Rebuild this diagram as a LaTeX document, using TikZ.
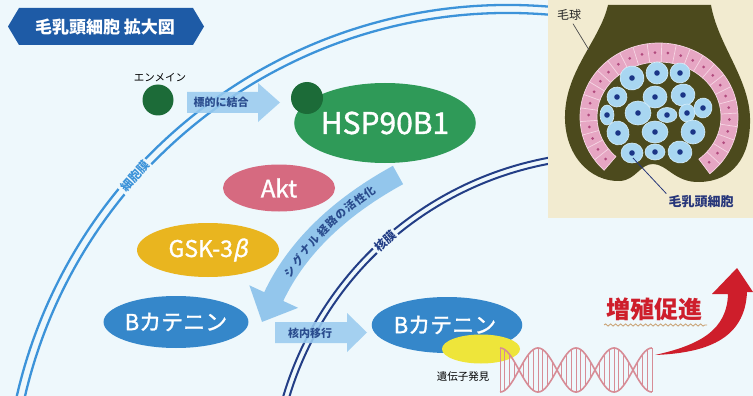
\documentclass[tikz,border=0pt]{standalone}
\usepackage{fontspec}
\setmainfont{Noto Sans CJK JP}
\newfontfamily\slfont{Noto Sans CJK JP}[FakeSlant=0.22,FakeBold=1.2]
\newfontfamily\medfont{Noto Sans CJK JP}[FakeBold=1.2]
\usetikzlibrary{shapes.geometric,arrows.meta,decorations.pathmorphing,calc}

\definecolor{bgc}{HTML}{EEF8FC}
\definecolor{banner}{HTML}{1E5BA6}
\definecolor{dgreen}{HTML}{1C6B38}
\definecolor{hspg}{HTML}{2F9A58}
\definecolor{aktp}{HTML}{D66A80}
\definecolor{gsky}{HTML}{E9B51F}
\definecolor{bcat}{HTML}{3587CA}
\definecolor{ylw}{HTML}{EEE53A}
\definecolor{arrowblue}{HTML}{9ACBEF}
\definecolor{arrowtxt}{HTML}{2A4C8E}
\definecolor{sigblue}{HTML}{93C6EC}
\definecolor{outerm}{HTML}{3C93D9}
\definecolor{nucm}{HTML}{233E86}
\definecolor{redc}{HTML}{CE1E2B}
\definecolor{dnac}{HTML}{D78C96}
\definecolor{beige}{HTML}{F2EBD0}
\definecolor{bulbc}{HTML}{4C4A1D}
\definecolor{ringp}{HTML}{E6A6C3}
\definecolor{ringline}{HTML}{F6D6E4}
\definecolor{ringdot}{HTML}{B14A7E}
\definecolor{cellb}{HTML}{A8D6F1}
\definecolor{cellrim}{HTML}{D6EEFA}
\definecolor{nucl}{HTML}{1B3586}
\definecolor{labnavy}{HTML}{27367A}
\definecolor{wavec}{HTML}{C9A070}

\newcommand{\ellfont}[1]{\fontsize{#1}{#1}\selectfont\medfont}

\begin{document}
\begin{tikzpicture}[x=1pt,y=-1pt,
  ell/.style={ellipse, inner sep=0pt, text=white},
  smalllbl/.style={font=\fontsize{10.5}{11}\selectfont, text=black, inner sep=0pt},
  arrowlbl/.style={font=\fontsize{11}{12}\selectfont\bfseries, text=arrowtxt, inner sep=0pt},
  blockarrow/.style={fill=arrowblue, fill opacity=0.88},
  siglbl/.style={font=\fontsize{11}{11}\selectfont\bfseries, text=arrowtxt, inner sep=0pt, sloped},
  memlbl/.style={fill=bgc, inner sep=2pt, font=\fontsize{12}{12}\selectfont\bfseries},
  outerline/.style={draw=outerm, line width=2.3pt},
  nucline/.style={draw=nucm, line width=2pt},
  dnastrand/.style={draw=dnac, line width=1.6pt},
  dnarung/.style={draw=dnac, line width=0.8pt},
  papcell/.style={fill=cellb, draw=cellrim, line width=0.6pt},
  ringcell/.style={draw=ringline, line width=0.7pt}]

\useasboundingbox (0,0) rectangle (753,396);
\clip (0,0) rectangle (753,396);
\fill[bgc] (0,0) rectangle (753,396);

% cell membrane: two concentric arcs
\coordinate (cmc) at (508,509);
\draw[outerline] (cmc) ++(168:504pt) arc[start angle=168, end angle=83, radius=504pt];
\draw[outerline] (cmc) ++(168:496pt) arc[start angle=168, end angle=83, radius=496pt];
\node[memlbl, text=outerm, rotate=48.3] (cmlbl) at ($(cmc)+(138.3:500pt)$) {細胞膜};

% nuclear membrane
\coordinate (nmc) at (611,494);
\draw[nucline] (nmc) ++(166:342pt) arc[start angle=166, end angle=96, radius=342pt];
\draw[nucline] (nmc) ++(166:336pt) arc[start angle=166, end angle=96, radius=336pt];
\node[memlbl, text=nucm, rotate=41.8] (nmlbl) at ($(nmc)+(131.75:339pt)$) {核膜};

% block arrows
\fill[blockarrow] (187,92) -- (258,92) -- (258,83) -- (280,102.5) -- (258,122) -- (258,113) -- (187,113) -- cycle;
\node[arrowlbl] (bind) at (221,102.5) {標的に結合};
\fill[blockarrow] (275,322) -- (347,322) -- (347,313) -- (367,332.5) -- (347,352) -- (347,343) -- (275,343) -- cycle;
\node[arrowlbl] (move) at (310,333) {核内移行};

% molecules
\node[smalllbl] (enmlbl) at (160,78) {エンメイン};
\node[circle, fill=dgreen, minimum size=31pt, inner sep=0pt] (enm) at (158,100) {};
\node[ell, fill=hspg, minimum width=171pt, minimum height=80pt, font=\ellfont{30}] (hsp) at (385,123) {HSP90B1};
\node[circle, fill=dgreen, minimum size=32pt, inner sep=0pt] (enmb) at (307,98) {};
\node[ell, fill=aktp, minimum width=112pt, minimum height=47pt, font=\ellfont{24}] (akt) at (279,188) {Akt};
\node[ell, fill=gsky, minimum width=142pt, minimum height=54pt, font=\ellfont{23}] (gsk) at (208,250) {GSK-3{\slfont β}};
\node[ell, fill=bcat, minimum width=144pt, minimum height=52pt, font=\ellfont{22}] (bcatl) at (176,322) {Bカテニン};
\node[ell, fill=bcat, minimum width=140pt, minimum height=56pt, font=\ellfont{22}] (bcatr) at (447,325) {Bカテニン\hspace*{4pt}};
\node[ellipse, fill=ylw, minimum width=78pt, minimum height=29pt, inner sep=0pt] (gene) at (481,349) {};
\node[smalllbl] (genelbl) at (463,377) {遺伝子発見};

% signalling arrow
\coordinate (sigs) at (398,175);
\coordinate (sige) at (262,322);
\draw[draw=sigblue, line width=21pt, -{Triangle[width=52pt,length=28pt]}]
  (sigs) .. controls (345,204) and (298,244) .. (sige);
\path (sige) .. controls (298,244) and (345,204) .. (sigs)
  node[siglbl,pos=0.24]{シ} node[siglbl,pos=0.305]{グ} node[siglbl,pos=0.37]{ナ}
  node[siglbl,pos=0.43]{ル} node[siglbl,pos=0.495]{経} node[siglbl,pos=0.56]{路}
  node[siglbl,pos=0.625]{の} node[siglbl,pos=0.69]{活} node[siglbl,pos=0.755]{性}
  node[siglbl,pos=0.82]{化};

% DNA double helix (half turn = 38pt, phase in degrees = 4.7368 per pt)
\foreach \xx in {500,504.75,...,652}
  \draw[dnarung] (\xx,{370-22*cos((\xx-500)*4.7368)}) -- (\xx,{370+22*cos((\xx-500)*4.7368)});
\draw[dnastrand] plot[domain=500:652, samples=160, smooth] (\x,{370-22*cos((\x-500)*4.7368)});
\draw[dnastrand] plot[domain=500:652, samples=160, smooth] (\x,{370+22*cos((\x-500)*4.7368)});
\coordinate (dnaend) at (655,355);

% proliferation arrow
\fill[redc] (dnaend) .. controls (705,353) and (745,340) .. (747,292) -- (753,292) -- (737,268)
  -- (712,294) -- (728,294) .. controls (727,330) and (700,345) .. (dnaend) -- cycle;
\node[font=\fontsize{24}{26}\selectfont\bfseries, text=redc, inner sep=0pt] (prolif) at (654,309) {増殖促進};
\draw[draw=wavec, line width=0.8pt, decorate, decoration={snake, amplitude=1.1pt, segment length=5pt}]
  (604,325) -- (707,325);

% hair bulb inset
\fill[beige] (548,0) rectangle (753,218);
\begin{scope}
\clip (548,0) rectangle (753,218);
\fill[bulbc] (608,5) -- (711,5) .. controls (718,45) and (749,78) .. (750,118)
  .. controls (751,158) and (732,181) .. (700,182) .. controls (675,183) and (667,164) .. (653,164)
  .. controls (640,164) and (636,180) .. (620,181) .. controls (590,182) and (564,155) .. (565,115)
  .. controls (566,70) and (600,40) .. (608,5) -- cycle;
\end{scope}
\coordinate (rc) at (659,117);
\fill[ringp, draw=ringline, line width=0.7pt] ($(rc)+(-50:79pt and 74pt)$) arc[start angle=-50, end angle=226, x radius=79pt, y radius=74pt]
  -- ($(rc)+(226:62pt and 55pt)$) arc[start angle=226, end angle=-50, x radius=62pt, y radius=55pt] -- cycle;
\foreach \i in {1,...,25} {
  \pgfmathsetmacro\aa{-50+\i*276/26}
  \draw[ringcell] ($(rc)+(\aa:62pt and 55pt)$) -- ($(rc)+(\aa:79pt and 74pt)$);
}
\foreach \i in {0,...,25} {
  \pgfmathsetmacro\am{-50+(\i+0.5)*276/26}
  \fill[ringdot] ($(rc)+(\am:70.5pt and 64.5pt)$) circle[radius=1.5pt];
}
\foreach \cx/\cy/\rx/\ry/\rot in {632/78/12/12/10, 657/73/11/11/0, 680/73/10/10/-15, 617/97/10/10/20,
  655/97/12/11/0, 683/95/12/11/10, 607/115/7/10/0, 638/113/13/12/0, 667/115/10/7.5/0,
  687/113/8/9/0, 703/108/9/10/-10, 618/133/11/12/15, 655/132/13/11/0, 693/132/12/12/0,
  632/153/11/10/0, 655/152/10/8/0, 680/152/12/11/-10} {
  \fill[papcell, rotate around={\rot:(\cx,\cy)}] (\cx,\cy) ellipse[x radius=\rx pt, y radius=\ry pt];
  \fill[nucl] (\cx,\cy) circle[radius=2.8pt];
}
\node[font=\fontsize{12}{12}\selectfont, text=black!85, inner sep=0pt] (bulblbl) at (569,15) {毛球};
\coordinate (bulbpt) at (589,50);
\draw[black!70, line width=0.7pt] (bulblbl.south) ++(4,3) -- (bulbpt);
\node[font=\fontsize{13}{13}\selectfont\bfseries, text=labnavy, inner sep=0pt] (dplbl) at (701,202) {毛乳頭細胞};
\coordinate (dppt) at (633,158);
\draw[labnavy, line width=0.8pt] (dplbl.north west) ++(-2,-2) -- (dppt);

% title banner
\fill[banner] (8,26.5) -- (19,8) -- (193,8) -- (204,26.5) -- (193,45) -- (19,45) -- cycle;
\node[font=\fontsize{17}{18}\selectfont\bfseries, text=white, inner sep=0pt] (title) at (105,27) {毛乳頭細胞 拡大図};

\end{tikzpicture}
\end{document}
